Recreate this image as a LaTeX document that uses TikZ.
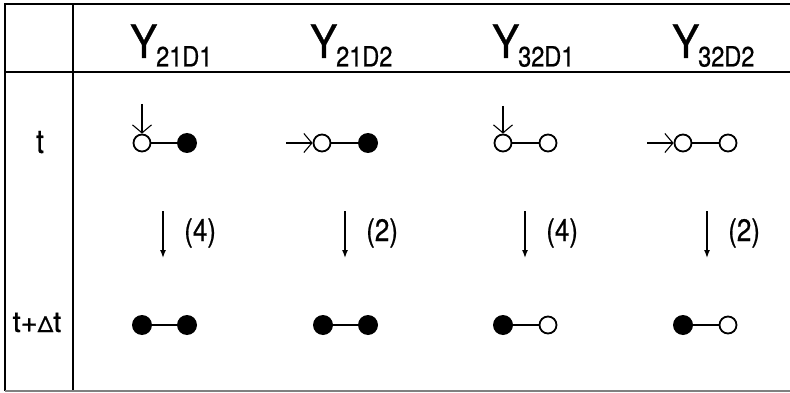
\documentclass[tikz,border=0pt]{standalone}
\usepackage{fontspec}
\setmainfont{TeX Gyre Heros}[FakeBold=0.6]
\newfontfamily\narrowfont{TeX Gyre Heros}[FakeStretch=0.84,FakeBold=0.6]
\newfontfamily\capfont{TeX Gyre Heros}[FakeStretch=0.88,FakeBold=0.8]
\usetikzlibrary{arrows.meta}

% column heading: large Y with a condensed subscript
\newcommand\colhead[2]{{\capfont\fontsize{46}{46}\selectfont #1}\kern-0.1em\raisebox{-8.5pt}{\narrowfont\fontsize{28}{28}\selectfont #2}}

\begin{document}
\begin{tikzpicture}[x=1pt,y=-1pt,
  rule/.style={line width=1.8pt},
  hole/.style={circle,draw,line width=1.8pt,minimum size=17pt,inner sep=0pt,fill=white},
  dot/.style={circle,fill,minimum size=20pt,inner sep=0pt},
  bond/.style={line width=1.5pt},
  attack/.style={line width=1.1pt,-{Straight Barb[length=8pt,width=19pt,line width=1.1pt]}},
  transit/.style={line width=1.4pt,-{Latex[length=8pt,width=6pt]}},
  head/.style={anchor=base west,inner sep=0pt},
  lbl/.style={font=\narrowfont\fontsize{31}{31}\selectfont,inner sep=0pt}
]
\path[use as bounding box] (0,0) rectangle (790,393);

% table rules
\draw[rule] (790,4) -- (5,4) -- (5,391);
\draw[rule] (5,72) -- (790,72);
\draw[rule] (73,4) -- (73,391);
\draw[rule,black!50] (5,391) -- (790,391);

% headings
\node[head] (h1) at (130,58) {\colhead{Y}{21D1}};
\node[head] (h2) at (310,58) {\colhead{Y}{21D2}};
\node[head] (h3) at (492,58) {\colhead{Y}{32D1}};
\node[head] (h4) at (672,58) {\colhead{Y}{32D2}};

% row labels
\node[lbl,anchor=base,font=\narrowfont\fontsize{33}{33}\selectfont] (rt) at (40,153) {t};
\node[lbl,anchor=base,font=\fontsize{29}{29}\selectfont] (rdt) at (37,332) {t+{\fontsize{22}{22}\selectfont Δ}t};

% state at t
\node[hole] (a1) at (142,143) {};
\node[dot]  (b1) at (187,143) {};
\node[hole] (a2) at (322,143) {};
\node[dot]  (b2) at (368,143) {};
\node[hole] (a3) at (503,143) {};
\node[hole] (b3) at (548,143) {};
\node[hole] (a4) at (683,143) {};
\node[hole] (b4) at (728,143) {};
\foreach \i in {1,...,4} \draw[bond] (a\i) -- (b\i);

\coordinate (s1) at (142,104);
\coordinate (s2) at (286,143);
\coordinate (s3) at (503,106);
\coordinate (s4) at (647,143);
\foreach \i in {1,...,4} \draw[attack] (s\i) -- (a\i);

% transitions
\foreach \i/\x/\n in {1/163/4,2/345/2,3/525/4,4/707/2}{
  \coordinate (p\i) at (\x,211);
  \coordinate (q\i) at (\x,258);
  \draw[transit] (p\i) -- (q\i);
  \node[lbl,anchor=west] (n\i) at (\x+21,233) {(\n)};
}

% state at t + delta t
\node[dot]  (c1) at (142,325) {};
\node[dot]  (d1) at (187,325) {};
\node[dot]  (c2) at (323,325) {};
\node[dot]  (d2) at (368,325) {};
\node[dot]  (c3) at (503,325) {};
\node[hole] (d3) at (548,325) {};
\node[dot]  (c4) at (683,325) {};
\node[hole] (d4) at (728,325) {};
\foreach \i in {1,...,4} \draw[bond] (c\i) -- (d\i);
\end{tikzpicture}
\end{document}
